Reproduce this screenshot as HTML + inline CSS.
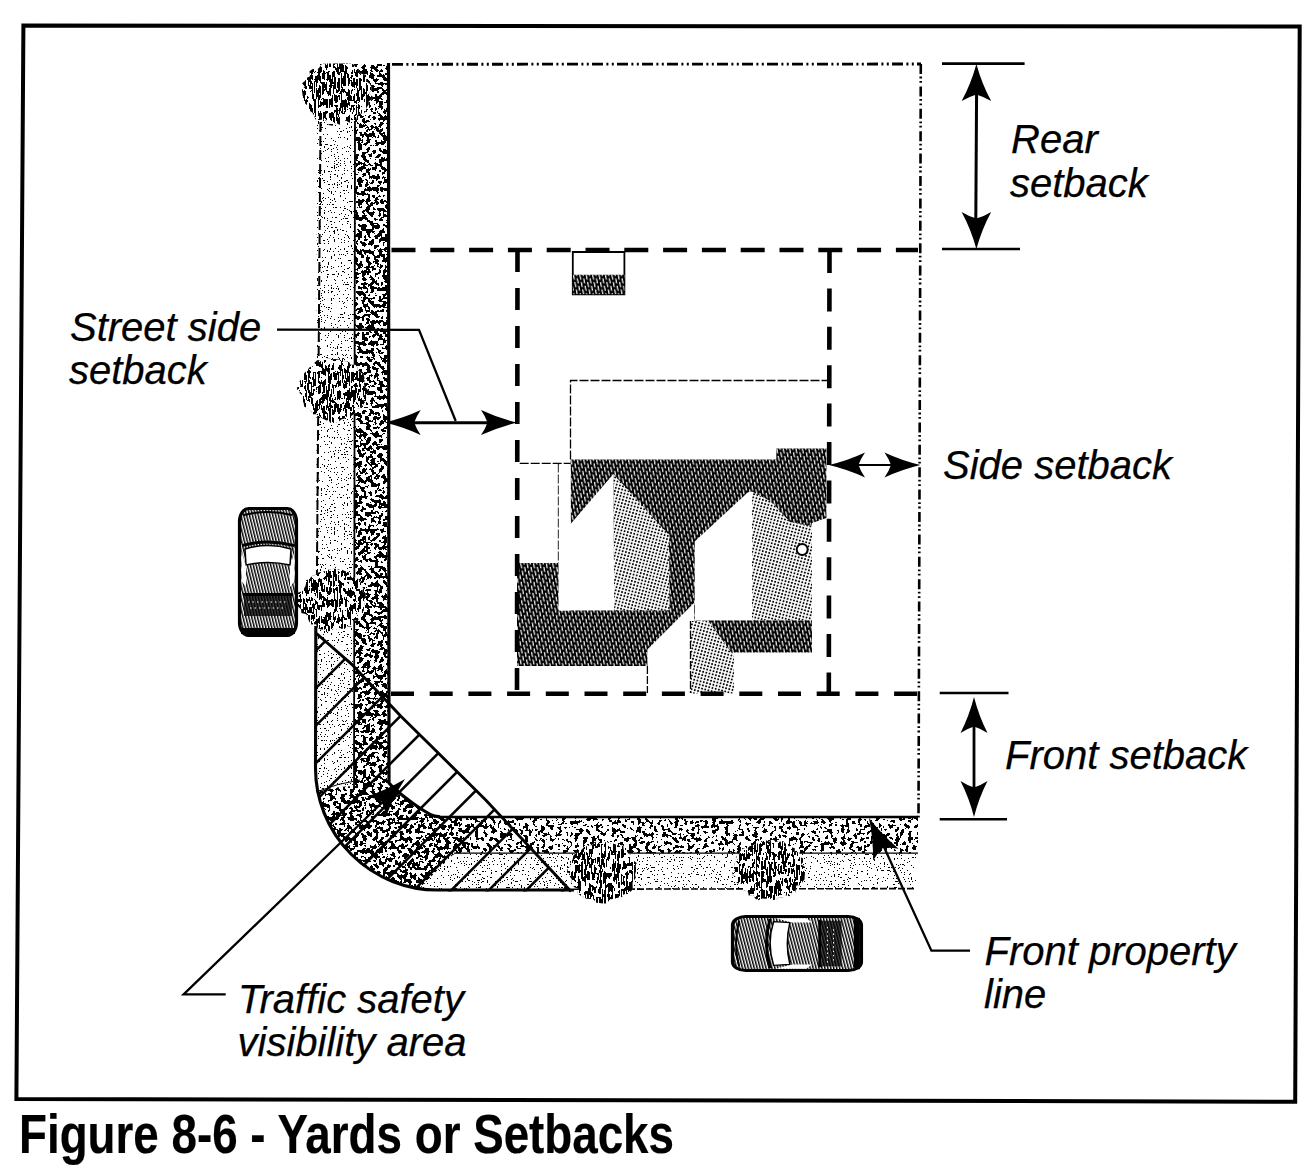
<!DOCTYPE html>
<html><head><meta charset="utf-8"><title>Figure 8-6 - Yards or Setbacks</title>
<style>
html,body{margin:0;padding:0;background:#fff;}
body{width:1307px;height:1176px;overflow:hidden;}
svg{display:block;}
text{font-family:"Liberation Sans",sans-serif;}
.lbl{font-style:italic;font-size:40px;fill:#000;stroke:#000;stroke-width:0.25px;}
</style></head>
<body>
<svg width="1307" height="1176" viewBox="0 0 1307 1176">

<defs>
<path id="ah" d="M0,0 Q19,-4.5 36,-12.5 Q31.5,-6 29.5,0 Q31.5,6 36,12.5 Q19,4.5 0,0 Z" fill="#000"/>
<filter id="fSpeck" x="0" y="0" width="1" height="1" color-interpolation-filters="sRGB">
  <feTurbulence type="fractalNoise" baseFrequency="0.24" numOctaves="2" seed="7" result="n"/>
  <feColorMatrix in="n" type="matrix" values="0 0 0 0 0  0 0 0 0 0  0 0 0 0 0  1 0 0 0 0" result="a"/>
  <feComponentTransfer in="a" result="t"><feFuncA type="discrete" tableValues="1 1 1 1 1 1 1 1 1 1 1 1 1 1 1 1 1 1 1 1 1 1 1 1 1 1 1 1 1 1 1 1 1 1 1 1 1 1 1 1 1 1 1 1 1 1 1 1 1 0 0 0 0 0 0 0 0 0 0 0 0 0 0 0 0 0 0 0 0 0 0 0 0 0 0 0 0 0 0 0 0 0 0 0 0 0 0 0 0 0 0 0 0 0 0 0 0 0 0 0"/></feComponentTransfer>
  <feComposite in="t" in2="SourceAlpha" operator="in"/>
</filter>
<filter id="fSpeck2" x="0" y="0" width="1" height="1" color-interpolation-filters="sRGB">
  <feTurbulence type="fractalNoise" baseFrequency="0.24" numOctaves="2" seed="19" result="n"/>
  <feColorMatrix in="n" type="matrix" values="0 0 0 0 0  0 0 0 0 0  0 0 0 0 0  1 0 0 0 0" result="a"/>
  <feComponentTransfer in="a" result="t"><feFuncA type="discrete" tableValues="1 1 1 1 1 1 1 1 1 1 1 0 0 0 0 0 0 0 0 0 0 0 0 0 0"/></feComponentTransfer>
  <feComposite in="t" in2="SourceAlpha" operator="in"/>
</filter>
<filter id="fTree" x="0" y="0" width="1" height="1" color-interpolation-filters="sRGB">
  <feTurbulence type="fractalNoise" baseFrequency="0.6 0.11" numOctaves="2" seed="4" result="n"/>
  <feColorMatrix in="n" type="matrix" values="0 0 0 0 0  0 0 0 0 0  0 0 0 0 0  1 0 0 0 0" result="a"/>
  <feComponentTransfer in="a" result="t"><feFuncA type="discrete" tableValues="1 1 1 1 1 1 1 1 1 1 1 1 1 1 1 1 1 1 1 1 1 1 1 1 1 1 1 1 1 1 1 1 1 1 1 1 1 1 1 1 1 1 1 1 1 1 1 1 1 1 1 1 1 1 0 0 0 0 0 0 0 0 0 0 0 0 0 0 0 0 0 0 0 0 0 0 0 0 0 0 0 0 0 0 0 0 0 0 0 0 0 0 0 0 0 0 0 0 0 0"/></feComponentTransfer>
  <feComposite in="t" in2="SourceAlpha" operator="in"/>
</filter>
<filter id="fLight" x="0" y="0" width="1" height="1" color-interpolation-filters="sRGB">
  <feTurbulence type="fractalNoise" baseFrequency="0.7" numOctaves="1" seed="3" result="n"/>
  <feColorMatrix in="n" type="matrix" values="0 0 0 0 0  0 0 0 0 0  0 0 0 0 0  1 0 0 0 0" result="a"/>
  <feComponentTransfer in="a" result="t"><feFuncA type="discrete" tableValues="0 0 0 0 0 0 0 0 0 0 0 0 0 0 0 0 0 0 0 0 0 0 0 0 0 0 0 0 0 0 0 0 0 0 0 0 0 0 0 0 0 0 0 0 0 0 0 0 0 0 0 0 0 0 0 0 0 0 0 0 0 0 0 0 0 0 0 0 0 0 0 0 0 0 0 0 0 0 0 0 0 0 0 0 0 0 0 0 0 0 0 0 0 0 0 0 0 0 0 0 0 0 0 0 0 0 0 0 0 0 0 0 0 0 0 0 0 0 0 0 0 0 0 0 0 0 0 0 0 0 0 1 1 1 1 1 1 1 1 1 1 1 1 1 1 1 1 1 1 1 1 1 1 1 1 1 1 1 1 1 1 1 1 1 1 1 1 1 1 1 1 1 1 1 1 1 1 1 1 1 1 1 1 1 1 1 1 1 1 1 1 1 1 1 1 1 1 1 1 1"/></feComponentTransfer>
  <feComposite in="t" in2="SourceAlpha" operator="in"/>
</filter>
<filter id="fLight2" x="0" y="0" width="1" height="1" color-interpolation-filters="sRGB">
  <feTurbulence type="fractalNoise" baseFrequency="0.7" numOctaves="1" seed="5" result="n"/>
  <feColorMatrix in="n" type="matrix" values="0 0 0 0 0  0 0 0 0 0  0 0 0 0 0  1 0 0 0 0" result="a"/>
  <feComponentTransfer in="a" result="t"><feFuncA type="discrete" tableValues="0 0 0 0 0 0 0 0 0 0 0 0 0 0 0 0 0 0 0 0 0 0 0 0 0 0 0 0 0 0 0 0 0 1 1 1 1 1 1 1 1 1 1 1 1 1 1 1 1 1"/></feComponentTransfer>
  <feComposite in="t" in2="SourceAlpha" operator="in"/>
</filter>
<filter id="fBlot" x="0" y="0" width="1" height="1" color-interpolation-filters="sRGB">
  <feTurbulence type="fractalNoise" baseFrequency="0.15" numOctaves="2" seed="11" result="n"/>
  <feColorMatrix in="n" type="matrix" values="0 0 0 0 1  0 0 0 0 1  0 0 0 0 1  1 0 0 0 0" result="a"/>
  <feComponentTransfer in="a" result="t"><feFuncA type="discrete" tableValues="0 0 0 0 0 0 0 0 0 0 0 0 1 1 1 1 1 1 1 1"/></feComponentTransfer>
  <feComposite in="t" in2="SourceAlpha" operator="in"/>
</filter>
<pattern id="pRoof" width="6.4" height="7.4" patternUnits="userSpaceOnUse" patternTransform="skewX(11)">
  <rect width="6.4" height="7.4" fill="#000"/>
  <rect x="1" y="0.8" width="1.2" height="5.1" fill="#fff"/>
  <rect x="4.2" y="4.5" width="1.2" height="5.1" fill="#fff"/>
  <rect x="4.2" y="-2.9" width="1.2" height="5.1" fill="#fff"/>
</pattern>
<pattern id="pTree" width="6.6" height="6" patternUnits="userSpaceOnUse" patternTransform="skewX(10)">
  <rect width="6.6" height="6" fill="#000"/>
  <rect x="1.0" y="0.4" width="1.3" height="4.2" fill="#fff"/>
  <rect x="4.3" y="3.2" width="1.3" height="4.2" fill="#fff"/>
  <rect x="4.3" y="-2.8" width="1.3" height="4.2" fill="#fff"/>
</pattern>
<pattern id="pCar" width="2.9" height="10" patternUnits="userSpaceOnUse" patternTransform="skewX(14)">
  <rect width="2.9" height="10" fill="#fff"/>
  <rect x="0" y="0" width="1.5" height="10" fill="#000"/>
</pattern>
<pattern id="pCar2" width="2.9" height="10" patternUnits="userSpaceOnUse" patternTransform="rotate(90) skewX(14)">
  <rect width="2.9" height="10" fill="#fff"/>
  <rect x="0" y="0" width="1.5" height="10" fill="#000"/>
</pattern>
<pattern id="pGable" width="3.3" height="3.3" patternUnits="userSpaceOnUse" patternTransform="rotate(15)">
  <rect width="3.3" height="3.3" fill="#fff"/>
  <circle cx="1.65" cy="1.65" r="0.98" fill="#000"/>
</pattern>
</defs>
<rect x="0" y="0" width="1307" height="1176" fill="#fff"/>

<polygon points="23.4,25.5 1299.7,26.6 1295.2,1101.7 16.4,1099" fill="none" stroke="#000" stroke-width="4"/>
<path d="M317,64 L354,64 L354,786 Q338,786 316,792 Z" fill="#fff"/>
<path d="M317,64 L354,64 L354,786 Q338,786 316,792 Z" fill="#000" filter="url(#fLight)"/>
<path d="M454.5,853 L916,853 L916,889 L418.5,889 Z" fill="#fff"/>
<path d="M454.5,853 L916,853 L916,889 L418.5,889 Z" fill="#000" filter="url(#fLight2)"/>
<path d="M354,64 L389,64 L389,782 C395,790 410,802 422,809.5 S432,815.5 440,816.5 L470,816.5 L470,853.3 L454.5,853.3 L419,888.5 A122,122 0 0 1 315.5,768 L316,792 Q338,786 354,786 Z" fill="#fff"/>
<path d="M354,64 L389,64 L389,782 C395,790 410,802 422,809.5 S432,815.5 440,816.5 L470,816.5 L470,853.3 L454.5,853.3 L419,888.5 A122,122 0 0 1 315.5,768 L316,792 Q338,786 354,786 Z" fill="#000" filter="url(#fSpeck)"/>
<path d="M470,816.5 L918,816.5 L918,853.3 L470,853.3 Z" fill="#fff"/>
<path d="M470,816.5 L918,816.5 L918,853.3 L470,853.3 Z" fill="#000" filter="url(#fSpeck2)"/>
<g fill="none" stroke="#000">
<path d="M320.5,122 L316.5,628" stroke-width="2" stroke-dasharray="10,4"/>
<path d="M315.8,626 L315.5,768 A122,122 0 0 0 437.5,890 L574,890" stroke-width="3.1"/>
<path d="M574,889.2 L916,888.6" stroke-width="1.6" stroke-dasharray="7,2"/>
<path d="M355,122 L354,788" stroke-width="1.8"/>
<path d="M388.5,63 L389,783 C395,790 410,802 422,809.5 S432,815.5 440,816.8" stroke-width="3.2"/>
<path d="M438,817 L918,817" stroke-width="2.6"/>
<path d="M454,853.2 L918,853.2" stroke-width="1.2"/>
<path d="M316,792 Q338,783 360,780" stroke-width="1"/>
<path d="M392,64.3 L921,64" stroke-width="2.8" stroke-dasharray="11,3.4,2,3.4,2,3.2"/>
<path d="M920.8,64 L918.5,818" stroke-width="2.6" stroke-dasharray="10,2.6,1.8,2.6,1.8,3.6"/>
</g>
<polygon points="572.8,252 624.4,252 624.4,294.3 572.8,294.3" fill="#fff" stroke="#000" stroke-width="1.8"/>
<polygon points="572.8,274.8 624.4,274.8 624.4,294.3 572.8,294.3" fill="url(#pRoof)" />
<path d="M570.5,459.5 L570.5,380.5 L829,380.5" fill="none" stroke="#000" stroke-width="1.3" stroke-dasharray="9,2"/>
<path d="M519.7,463.4 L570.6,463.4 M558.5,463.4 L558.5,563" fill="none" stroke="#000" stroke-width="1.3" stroke-dasharray="9,2"/>
<polygon points="570.6,459.4 776.3,459.4 776.3,448.6 826.4,448.6 826.4,518 812,523 812,620.5 694,620.5 694,603 647.4,649.4 647.4,666 517,666 517,563 558.7,563 558.7,610.4 570.6,610.4" fill="url(#pRoof)" />
<polygon points="708,620.5 812,620.5 812,652.5 731,652.5" fill="url(#pRoof)" />
<polygon points="613.4,474 669,535 669.5,610.4 614.2,610.4" fill="url(#pGable)" />
<polygon points="558.7,464.5 570.6,464.5 570.6,524 613.4,474 614.2,610.4 558.7,610.4" fill="#fff" />
<polygon points="694.7,541.5 748,492.2 752,491.4 752,620.3 694.7,620.3" fill="#fff" />
<polygon points="752,491.4 812,523 812,620.3 752,620.3" fill="url(#pGable)" />
<polygon points="770,500 812,520 812,526 790,522" fill="url(#pRoof)" />
<polygon points="690.5,621 708,621 731,652.5 734,652.5 734,693.5 690.5,693.5" fill="url(#pGable)" />
<path d="M647.4,666 L647.4,693 M690.5,621 L690.5,693" fill="none" stroke="#000" stroke-width="1.3" stroke-dasharray="8,2"/>
<circle cx="802.2" cy="549.5" r="5.5" fill="#fff" stroke="#000" stroke-width="2"/>
<g fill="none" stroke="#000" stroke-width="4.6">
<path d="M391.5,250 L918,250" stroke-dasharray="24,14.8"/>
<path d="M391,693.8 L918,693.8" stroke-dasharray="23,15.7"/>
<path d="M517.5,250 L517,693.8" stroke-dasharray="22,16"/>
<path d="M829.5,250 L828.8,693.8" stroke-dasharray="23,15.4"/>
</g>
<clipPath id="cTri"><path d="M316.5,633.5 L352.4,664.9 L401.4,716.8 L435.2,750 L485.7,800 L530,847.4 L571,891.5 L437.5,891.5 A122,122 0 0 1 315.5,768 Z"/></clipPath>
<g clip-path="url(#cTri)" stroke="#000" stroke-width="2.6" fill="none">
<path d="M-21.0,950 L329.0,600"/>
<path d="M16.5,950 L366.5,600"/>
<path d="M54.0,950 L404.0,600"/>
<path d="M91.5,950 L441.5,600"/>
<path d="M129.0,950 L479.0,600"/>
<path d="M166.5,950 L516.5,600"/>
<path d="M204.0,950 L554.0,600"/>
<path d="M241.5,950 L591.5,600"/>
<path d="M279.0,950 L629.0,600"/>
<path d="M316.5,950 L666.5,600"/>
<path d="M354.0,950 L704.0,600"/>
<path d="M391.5,950 L741.5,600"/>
<path d="M429.0,950 L779.0,600"/>
<path d="M466.5,950 L816.5,600"/>
<path d="M504.0,950 L854.0,600"/>
<path d="M541.5,950 L891.5,600"/>
</g>
<path d="M316.5,633.5 L352.4,664.9 L401.4,716.8 L435.2,750 L485.7,800 L530,847.4 L571,891.5" stroke="#000" stroke-width="2.9" fill="none" stroke-linejoin="round"/>
<path d="M369.2,93.0 L372.5,96.2 L371.6,99.3 L368.3,101.7 L368.3,104.9 L366.6,107.5 L365.7,110.6 L364.1,113.5 L359.3,113.7 L356.7,115.4 L356.4,120.0 L352.3,120.1 L349.9,122.7 L345.5,120.6 L342.8,123.2 L339.5,124.8 L336.0,122.8 L332.4,125.8 L328.8,125.1 L326.5,120.7 L323.5,119.6 L319.4,120.1 L315.4,119.6 L314.2,115.4 L312.2,112.5 L309.2,110.4 L308.8,106.8 L306.3,104.5 L303.9,102.2 L302.5,99.7 L303.0,97.2 L302.5,95.1 L302.4,93.0 L301.4,90.9 L302.7,88.8 L304.8,86.7 L302.1,83.3 L304.9,80.9 L306.3,78.0 L310.1,76.2 L309.5,71.3 L312.7,69.1 L317.6,69.3 L319.9,66.7 L322.2,63.7 L325.5,63.5 L328.8,63.5 L332.6,63.5 L336.0,63.5 L339.5,63.5 L342.6,63.5 L346.3,63.5 L350.1,63.5 L353.3,64.3 L355.5,67.2 L358.5,68.7 L359.1,72.5 L362.1,74.0 L366.3,75.1 L366.5,78.6 L366.9,81.7 L369.7,83.9 L371.3,86.8 L371.7,89.9 Z" fill="#fff"/>
<path d="M369.2,93.0 L372.5,96.2 L371.6,99.3 L368.3,101.7 L368.3,104.9 L366.6,107.5 L365.7,110.6 L364.1,113.5 L359.3,113.7 L356.7,115.4 L356.4,120.0 L352.3,120.1 L349.9,122.7 L345.5,120.6 L342.8,123.2 L339.5,124.8 L336.0,122.8 L332.4,125.8 L328.8,125.1 L326.5,120.7 L323.5,119.6 L319.4,120.1 L315.4,119.6 L314.2,115.4 L312.2,112.5 L309.2,110.4 L308.8,106.8 L306.3,104.5 L303.9,102.2 L302.5,99.7 L303.0,97.2 L302.5,95.1 L302.4,93.0 L301.4,90.9 L302.7,88.8 L304.8,86.7 L302.1,83.3 L304.9,80.9 L306.3,78.0 L310.1,76.2 L309.5,71.3 L312.7,69.1 L317.6,69.3 L319.9,66.7 L322.2,63.7 L325.5,63.5 L328.8,63.5 L332.6,63.5 L336.0,63.5 L339.5,63.5 L342.6,63.5 L346.3,63.5 L350.1,63.5 L353.3,64.3 L355.5,67.2 L358.5,68.7 L359.1,72.5 L362.1,74.0 L366.3,75.1 L366.5,78.6 L366.9,81.7 L369.7,83.9 L371.3,86.8 L371.7,89.9 Z" fill="#000" filter="url(#fTree)"/>
<path d="M369.2,93.0 L372.5,96.2 L371.6,99.3 L368.3,101.7 L368.3,104.9 L366.6,107.5 L365.7,110.6 L364.1,113.5 L359.3,113.7 L356.7,115.4 L356.4,120.0 L352.3,120.1 L349.9,122.7 L345.5,120.6 L342.8,123.2 L339.5,124.8 L336.0,122.8 L332.4,125.8 L328.8,125.1 L326.5,120.7 L323.5,119.6 L319.4,120.1 L315.4,119.6 L314.2,115.4 L312.2,112.5 L309.2,110.4 L308.8,106.8 L306.3,104.5 L303.9,102.2 L302.5,99.7 L303.0,97.2 L302.5,95.1 L302.4,93.0 L301.4,90.9 L302.7,88.8 L304.8,86.7 L302.1,83.3 L304.9,80.9 L306.3,78.0 L310.1,76.2 L309.5,71.3 L312.7,69.1 L317.6,69.3 L319.9,66.7 L322.2,63.7 L325.5,63.5 L328.8,63.5 L332.6,63.5 L336.0,63.5 L339.5,63.5 L342.6,63.5 L346.3,63.5 L350.1,63.5 L353.3,64.3 L355.5,67.2 L358.5,68.7 L359.1,72.5 L362.1,74.0 L366.3,75.1 L366.5,78.6 L366.9,81.7 L369.7,83.9 L371.3,86.8 L371.7,89.9 Z" fill="#fff" filter="url(#fBlot)"/>
<path d="M368.2,390.0 L368.0,393.2 L363.3,395.7 L362.6,398.5 L364.9,402.4 L363.0,405.1 L360.9,407.6 L357.6,409.1 L356.4,412.2 L353.9,414.3 L351.1,416.1 L347.3,416.0 L344.9,418.4 L341.7,419.2 L338.8,421.4 L335.6,423.0 L332.0,423.0 L328.6,421.0 L325.4,420.1 L322.5,418.6 L319.8,416.5 L317.0,414.8 L313.2,414.3 L311.0,411.3 L308.4,408.6 L304.3,406.7 L303.6,402.7 L301.8,399.8 L301.7,396.8 L301.6,394.5 L299.5,392.9 L299.9,391.3 L298.0,390.0 L295.8,388.5 L297.8,387.0 L300.9,385.4 L298.9,382.5 L300.8,379.8 L302.8,376.9 L304.2,373.3 L307.1,370.4 L309.6,367.3 L313.5,366.1 L314.9,361.6 L318.1,359.9 L322.6,361.9 L325.1,358.5 L328.6,358.2 L332.0,359.2 L335.3,359.0 L338.6,359.6 L342.5,358.6 L345.0,361.4 L348.8,361.4 L350.5,364.8 L354.7,364.8 L357.4,366.9 L358.1,370.4 L360.5,372.6 L363.7,374.5 L364.4,377.8 L364.5,381.0 L364.0,384.2 L365.0,387.0 Z" fill="#fff"/>
<path d="M368.2,390.0 L368.0,393.2 L363.3,395.7 L362.6,398.5 L364.9,402.4 L363.0,405.1 L360.9,407.6 L357.6,409.1 L356.4,412.2 L353.9,414.3 L351.1,416.1 L347.3,416.0 L344.9,418.4 L341.7,419.2 L338.8,421.4 L335.6,423.0 L332.0,423.0 L328.6,421.0 L325.4,420.1 L322.5,418.6 L319.8,416.5 L317.0,414.8 L313.2,414.3 L311.0,411.3 L308.4,408.6 L304.3,406.7 L303.6,402.7 L301.8,399.8 L301.7,396.8 L301.6,394.5 L299.5,392.9 L299.9,391.3 L298.0,390.0 L295.8,388.5 L297.8,387.0 L300.9,385.4 L298.9,382.5 L300.8,379.8 L302.8,376.9 L304.2,373.3 L307.1,370.4 L309.6,367.3 L313.5,366.1 L314.9,361.6 L318.1,359.9 L322.6,361.9 L325.1,358.5 L328.6,358.2 L332.0,359.2 L335.3,359.0 L338.6,359.6 L342.5,358.6 L345.0,361.4 L348.8,361.4 L350.5,364.8 L354.7,364.8 L357.4,366.9 L358.1,370.4 L360.5,372.6 L363.7,374.5 L364.4,377.8 L364.5,381.0 L364.0,384.2 L365.0,387.0 Z" fill="#000" filter="url(#fTree)"/>
<path d="M368.2,390.0 L368.0,393.2 L363.3,395.7 L362.6,398.5 L364.9,402.4 L363.0,405.1 L360.9,407.6 L357.6,409.1 L356.4,412.2 L353.9,414.3 L351.1,416.1 L347.3,416.0 L344.9,418.4 L341.7,419.2 L338.8,421.4 L335.6,423.0 L332.0,423.0 L328.6,421.0 L325.4,420.1 L322.5,418.6 L319.8,416.5 L317.0,414.8 L313.2,414.3 L311.0,411.3 L308.4,408.6 L304.3,406.7 L303.6,402.7 L301.8,399.8 L301.7,396.8 L301.6,394.5 L299.5,392.9 L299.9,391.3 L298.0,390.0 L295.8,388.5 L297.8,387.0 L300.9,385.4 L298.9,382.5 L300.8,379.8 L302.8,376.9 L304.2,373.3 L307.1,370.4 L309.6,367.3 L313.5,366.1 L314.9,361.6 L318.1,359.9 L322.6,361.9 L325.1,358.5 L328.6,358.2 L332.0,359.2 L335.3,359.0 L338.6,359.6 L342.5,358.6 L345.0,361.4 L348.8,361.4 L350.5,364.8 L354.7,364.8 L357.4,366.9 L358.1,370.4 L360.5,372.6 L363.7,374.5 L364.4,377.8 L364.5,381.0 L364.0,384.2 L365.0,387.0 Z" fill="#fff" filter="url(#fBlot)"/>
<path d="M363.8,600.0 L365.0,603.0 L363.7,605.7 L364.0,608.8 L363.0,611.7 L359.2,613.3 L357.3,615.5 L358.5,619.9 L354.2,620.5 L351.8,622.3 L351.2,626.7 L347.0,626.3 L344.6,629.0 L340.8,628.6 L337.8,630.0 L334.2,628.4 L331.0,630.6 L327.5,631.4 L324.3,629.5 L320.8,629.6 L317.7,628.0 L316.0,624.2 L311.4,624.5 L309.2,621.4 L307.6,617.8 L306.4,614.3 L301.3,612.9 L301.1,609.4 L298.6,607.1 L296.7,604.9 L296.7,603.0 L295.2,601.4 L297.5,600.0 L295.7,598.6 L297.9,597.1 L296.5,595.0 L297.9,592.8 L302.7,591.1 L304.2,588.3 L305.8,585.3 L305.4,580.5 L309.6,579.1 L311.8,575.9 L315.4,575.0 L318.0,572.6 L321.3,571.9 L324.5,571.2 L327.6,569.8 L331.0,569.6 L334.5,568.5 L337.8,569.8 L341.5,569.6 L344.7,570.9 L348.1,571.7 L350.3,574.5 L351.6,577.9 L356.3,577.7 L359.0,579.7 L360.9,582.4 L361.3,585.7 L363.4,588.2 L362.2,591.6 L365.9,593.9 L365.2,597.0 Z" fill="#fff"/>
<path d="M363.8,600.0 L365.0,603.0 L363.7,605.7 L364.0,608.8 L363.0,611.7 L359.2,613.3 L357.3,615.5 L358.5,619.9 L354.2,620.5 L351.8,622.3 L351.2,626.7 L347.0,626.3 L344.6,629.0 L340.8,628.6 L337.8,630.0 L334.2,628.4 L331.0,630.6 L327.5,631.4 L324.3,629.5 L320.8,629.6 L317.7,628.0 L316.0,624.2 L311.4,624.5 L309.2,621.4 L307.6,617.8 L306.4,614.3 L301.3,612.9 L301.1,609.4 L298.6,607.1 L296.7,604.9 L296.7,603.0 L295.2,601.4 L297.5,600.0 L295.7,598.6 L297.9,597.1 L296.5,595.0 L297.9,592.8 L302.7,591.1 L304.2,588.3 L305.8,585.3 L305.4,580.5 L309.6,579.1 L311.8,575.9 L315.4,575.0 L318.0,572.6 L321.3,571.9 L324.5,571.2 L327.6,569.8 L331.0,569.6 L334.5,568.5 L337.8,569.8 L341.5,569.6 L344.7,570.9 L348.1,571.7 L350.3,574.5 L351.6,577.9 L356.3,577.7 L359.0,579.7 L360.9,582.4 L361.3,585.7 L363.4,588.2 L362.2,591.6 L365.9,593.9 L365.2,597.0 Z" fill="#000" filter="url(#fTree)"/>
<path d="M363.8,600.0 L365.0,603.0 L363.7,605.7 L364.0,608.8 L363.0,611.7 L359.2,613.3 L357.3,615.5 L358.5,619.9 L354.2,620.5 L351.8,622.3 L351.2,626.7 L347.0,626.3 L344.6,629.0 L340.8,628.6 L337.8,630.0 L334.2,628.4 L331.0,630.6 L327.5,631.4 L324.3,629.5 L320.8,629.6 L317.7,628.0 L316.0,624.2 L311.4,624.5 L309.2,621.4 L307.6,617.8 L306.4,614.3 L301.3,612.9 L301.1,609.4 L298.6,607.1 L296.7,604.9 L296.7,603.0 L295.2,601.4 L297.5,600.0 L295.7,598.6 L297.9,597.1 L296.5,595.0 L297.9,592.8 L302.7,591.1 L304.2,588.3 L305.8,585.3 L305.4,580.5 L309.6,579.1 L311.8,575.9 L315.4,575.0 L318.0,572.6 L321.3,571.9 L324.5,571.2 L327.6,569.8 L331.0,569.6 L334.5,568.5 L337.8,569.8 L341.5,569.6 L344.7,570.9 L348.1,571.7 L350.3,574.5 L351.6,577.9 L356.3,577.7 L359.0,579.7 L360.9,582.4 L361.3,585.7 L363.4,588.2 L362.2,591.6 L365.9,593.9 L365.2,597.0 Z" fill="#fff" filter="url(#fBlot)"/>
<path d="M635.7,872.0 L635.0,874.8 L635.9,877.8 L634.0,880.3 L632.5,882.8 L632.6,885.9 L632.9,889.6 L630.4,891.8 L627.9,894.0 L623.7,894.3 L622.0,897.1 L618.5,897.6 L615.4,898.4 L612.3,899.1 L609.4,900.2 L606.5,903.6 L603.0,903.4 L599.5,903.1 L596.1,902.7 L593.6,899.4 L590.3,898.9 L586.7,898.7 L583.5,897.3 L580.4,895.6 L577.7,893.2 L578.2,888.7 L574.3,887.3 L572.3,884.7 L571.6,881.8 L571.9,878.9 L569.8,876.8 L571.1,874.2 L566.9,872.0 L567.4,869.5 L569.4,867.2 L571.4,865.0 L569.8,861.6 L572.7,859.4 L573.2,856.1 L575.4,853.5 L578.9,851.8 L581.7,849.8 L583.8,847.2 L587.1,846.1 L590.6,845.7 L593.4,844.1 L596.1,841.3 L599.9,844.1 L603.0,843.9 L606.4,841.6 L609.4,843.5 L612.9,843.2 L616.0,844.4 L618.7,846.1 L623.2,845.3 L623.7,849.8 L626.7,851.0 L628.2,853.8 L631.8,855.0 L632.0,858.3 L633.8,860.8 L636.7,863.0 L635.5,866.3 L637.1,869.0 Z" fill="#fff"/>
<path d="M635.7,872.0 L635.0,874.8 L635.9,877.8 L634.0,880.3 L632.5,882.8 L632.6,885.9 L632.9,889.6 L630.4,891.8 L627.9,894.0 L623.7,894.3 L622.0,897.1 L618.5,897.6 L615.4,898.4 L612.3,899.1 L609.4,900.2 L606.5,903.6 L603.0,903.4 L599.5,903.1 L596.1,902.7 L593.6,899.4 L590.3,898.9 L586.7,898.7 L583.5,897.3 L580.4,895.6 L577.7,893.2 L578.2,888.7 L574.3,887.3 L572.3,884.7 L571.6,881.8 L571.9,878.9 L569.8,876.8 L571.1,874.2 L566.9,872.0 L567.4,869.5 L569.4,867.2 L571.4,865.0 L569.8,861.6 L572.7,859.4 L573.2,856.1 L575.4,853.5 L578.9,851.8 L581.7,849.8 L583.8,847.2 L587.1,846.1 L590.6,845.7 L593.4,844.1 L596.1,841.3 L599.9,844.1 L603.0,843.9 L606.4,841.6 L609.4,843.5 L612.9,843.2 L616.0,844.4 L618.7,846.1 L623.2,845.3 L623.7,849.8 L626.7,851.0 L628.2,853.8 L631.8,855.0 L632.0,858.3 L633.8,860.8 L636.7,863.0 L635.5,866.3 L637.1,869.0 Z" fill="#000" filter="url(#fTree)"/>
<path d="M635.7,872.0 L635.0,874.8 L635.9,877.8 L634.0,880.3 L632.5,882.8 L632.6,885.9 L632.9,889.6 L630.4,891.8 L627.9,894.0 L623.7,894.3 L622.0,897.1 L618.5,897.6 L615.4,898.4 L612.3,899.1 L609.4,900.2 L606.5,903.6 L603.0,903.4 L599.5,903.1 L596.1,902.7 L593.6,899.4 L590.3,898.9 L586.7,898.7 L583.5,897.3 L580.4,895.6 L577.7,893.2 L578.2,888.7 L574.3,887.3 L572.3,884.7 L571.6,881.8 L571.9,878.9 L569.8,876.8 L571.1,874.2 L566.9,872.0 L567.4,869.5 L569.4,867.2 L571.4,865.0 L569.8,861.6 L572.7,859.4 L573.2,856.1 L575.4,853.5 L578.9,851.8 L581.7,849.8 L583.8,847.2 L587.1,846.1 L590.6,845.7 L593.4,844.1 L596.1,841.3 L599.9,844.1 L603.0,843.9 L606.4,841.6 L609.4,843.5 L612.9,843.2 L616.0,844.4 L618.7,846.1 L623.2,845.3 L623.7,849.8 L626.7,851.0 L628.2,853.8 L631.8,855.0 L632.0,858.3 L633.8,860.8 L636.7,863.0 L635.5,866.3 L637.1,869.0 Z" fill="#fff" filter="url(#fBlot)"/>
<path d="M804.6,870.0 L805.0,873.0 L804.7,876.1 L804.6,879.2 L802.4,881.9 L801.7,885.0 L796.2,885.6 L795.9,888.9 L795.3,892.5 L791.7,893.7 L789.5,896.3 L784.6,895.0 L782.3,897.6 L778.8,897.7 L775.9,899.6 L772.5,900.2 L769.0,898.0 L765.7,898.7 L762.4,898.5 L758.2,900.3 L755.1,898.6 L753.3,894.9 L748.7,895.5 L747.9,891.3 L743.8,890.5 L743.4,886.7 L741.9,884.0 L736.5,883.1 L738.0,879.4 L736.8,877.0 L732.4,875.1 L732.4,872.5 L735.0,870.0 L731.9,867.5 L734.5,865.2 L734.7,862.6 L738.0,860.6 L736.2,856.8 L739.1,854.5 L740.2,851.2 L742.9,848.7 L747.4,848.2 L749.9,846.0 L753.3,845.0 L756.3,843.8 L759.5,843.1 L762.4,841.4 L765.5,839.7 L769.0,842.1 L772.5,839.4 L775.7,841.2 L778.9,842.1 L783.0,841.0 L785.5,843.6 L787.9,845.7 L791.1,846.9 L794.5,848.2 L794.4,852.1 L800.0,852.2 L797.8,856.8 L802.5,858.1 L804.1,860.9 L801.0,864.5 L805.2,866.9 Z" fill="#fff"/>
<path d="M804.6,870.0 L805.0,873.0 L804.7,876.1 L804.6,879.2 L802.4,881.9 L801.7,885.0 L796.2,885.6 L795.9,888.9 L795.3,892.5 L791.7,893.7 L789.5,896.3 L784.6,895.0 L782.3,897.6 L778.8,897.7 L775.9,899.6 L772.5,900.2 L769.0,898.0 L765.7,898.7 L762.4,898.5 L758.2,900.3 L755.1,898.6 L753.3,894.9 L748.7,895.5 L747.9,891.3 L743.8,890.5 L743.4,886.7 L741.9,884.0 L736.5,883.1 L738.0,879.4 L736.8,877.0 L732.4,875.1 L732.4,872.5 L735.0,870.0 L731.9,867.5 L734.5,865.2 L734.7,862.6 L738.0,860.6 L736.2,856.8 L739.1,854.5 L740.2,851.2 L742.9,848.7 L747.4,848.2 L749.9,846.0 L753.3,845.0 L756.3,843.8 L759.5,843.1 L762.4,841.4 L765.5,839.7 L769.0,842.1 L772.5,839.4 L775.7,841.2 L778.9,842.1 L783.0,841.0 L785.5,843.6 L787.9,845.7 L791.1,846.9 L794.5,848.2 L794.4,852.1 L800.0,852.2 L797.8,856.8 L802.5,858.1 L804.1,860.9 L801.0,864.5 L805.2,866.9 Z" fill="#000" filter="url(#fTree)"/>
<path d="M804.6,870.0 L805.0,873.0 L804.7,876.1 L804.6,879.2 L802.4,881.9 L801.7,885.0 L796.2,885.6 L795.9,888.9 L795.3,892.5 L791.7,893.7 L789.5,896.3 L784.6,895.0 L782.3,897.6 L778.8,897.7 L775.9,899.6 L772.5,900.2 L769.0,898.0 L765.7,898.7 L762.4,898.5 L758.2,900.3 L755.1,898.6 L753.3,894.9 L748.7,895.5 L747.9,891.3 L743.8,890.5 L743.4,886.7 L741.9,884.0 L736.5,883.1 L738.0,879.4 L736.8,877.0 L732.4,875.1 L732.4,872.5 L735.0,870.0 L731.9,867.5 L734.5,865.2 L734.7,862.6 L738.0,860.6 L736.2,856.8 L739.1,854.5 L740.2,851.2 L742.9,848.7 L747.4,848.2 L749.9,846.0 L753.3,845.0 L756.3,843.8 L759.5,843.1 L762.4,841.4 L765.5,839.7 L769.0,842.1 L772.5,839.4 L775.7,841.2 L778.9,842.1 L783.0,841.0 L785.5,843.6 L787.9,845.7 L791.1,846.9 L794.5,848.2 L794.4,852.1 L800.0,852.2 L797.8,856.8 L802.5,858.1 L804.1,860.9 L801.0,864.5 L805.2,866.9 Z" fill="#fff" filter="url(#fBlot)"/>
<g transform="translate(238,507)"><rect x="1.5" y="1.5" width="57" height="127" rx="9" ry="13" fill="url(#pCar)" stroke="#000" stroke-width="3.2"/>
<path d="M6,8 Q30,2 54,8" fill="none" stroke="#000" stroke-width="2"/>
<path d="M4,37 Q30,30 56,37 L56,40 Q30,33 4,40 Z" fill="#000"/>
<path d="M7,42 Q30,35 53,42 L52,58 Q30,53 8,58 Z" fill="#fff" stroke="#000" stroke-width="1.5"/>
<path d="M3.5,44 L8,60 L8,80 L3.5,74 Z" fill="#fff"/>
<path d="M56.5,44 L52,60 L52,80 L56.5,74 Z" fill="#fff"/>
<rect x="5" y="86" width="50" height="3" fill="#000"/>
<rect x="6" y="89" width="48" height="20" fill="#000" opacity="0.75"/>
<path d="M10,95 h40 M12,101 h36" stroke="#fff" stroke-width="1" stroke-dasharray="1.5,3" fill="none"/>
<rect x="3" y="121" width="54" height="6" fill="#000"/></g>
<g transform="translate(731,972) rotate(-90) scale(0.95,1.015)"><rect x="1.5" y="1.5" width="57" height="127" rx="9" ry="13" fill="url(#pCar2)" stroke="#000" stroke-width="3.2"/>
<path d="M6,8 Q30,2 54,8" fill="none" stroke="#000" stroke-width="2"/>
<path d="M4,37 Q30,30 56,37 L56,40 Q30,33 4,40 Z" fill="#000"/>
<path d="M7,42 Q30,35 53,42 L52,58 Q30,53 8,58 Z" fill="#fff" stroke="#000" stroke-width="1.5"/>
<path d="M3.5,44 L8,60 L8,80 L3.5,74 Z" fill="#fff"/>
<path d="M56.5,44 L52,60 L52,80 L56.5,74 Z" fill="#fff"/>
<rect x="5" y="86" width="50" height="3" fill="#000"/>
<rect x="6" y="89" width="48" height="20" fill="#000" opacity="0.75"/>
<path d="M10,95 h40 M12,101 h36" stroke="#fff" stroke-width="1" stroke-dasharray="1.5,3" fill="none"/>
<rect x="3" y="121" width="54" height="6" fill="#000"/></g>
<g stroke="#000" stroke-width="2.6" fill="none">
<path d="M942,63.6 L1024.6,63.6 M942,249 L1020,249"/>
<path d="M976.6,90 L975.8,222" stroke-width="3"/>
<path d="M939.7,693 L1008.5,693 M939.7,819.3 L1007,819.3"/>
<path d="M974,722 L974,792" stroke-width="2.8"/>
<path d="M855,465 L895,465" stroke-width="2"/>
<path d="M410,422.8 L492,422.8" stroke-width="3"/>
</g>
<use href="#ah" transform="translate(976.4,64) rotate(90) scale(1.03,1.18)"/>
<use href="#ah" transform="translate(976.4,249) rotate(-90) scale(1.03,1.18)"/>
<use href="#ah" transform="translate(974,697) rotate(90) scale(1.0,1.08)"/>
<use href="#ah" transform="translate(974,817) rotate(-90) scale(1.0,1.08)"/>
<use href="#ah" transform="translate(829,465) rotate(0) scale(1.0,1.0)"/>
<use href="#ah" transform="translate(920.5,465) rotate(180) scale(1.0,1.0)"/>
<use href="#ah" transform="translate(384.7,422.6) rotate(0) scale(1.0,1.0)"/>
<use href="#ah" transform="translate(517,422.6) rotate(180) scale(1.0,1.0)"/>
<g stroke="#000" stroke-width="2.3" fill="none">
<polyline points="277,329.6 419,329.8 455.7,421"/>
<polyline points="225.7,994.4 183.6,994.4 392,793"/>
<polyline points="970,950.7 931.4,950.7 878,834"/>
</g>
<use href="#ah" transform="translate(405,779) rotate(136) scale(1.1,1.1)"/>
<use href="#ah" transform="translate(869,818) rotate(65.3) scale(1.12,1.12)"/>
<text class="lbl" x="1011" y="153.0">Rear</text>
<text class="lbl" x="1010" y="196.9">setback</text>
<text class="lbl" x="70" y="340.9">Street side</text>
<text class="lbl" x="69" y="383.7">setback</text>
<text class="lbl" x="943" y="479.3">Side setback</text>
<text class="lbl" x="1005" y="769.3">Front setback</text>
<text class="lbl" x="984.5" y="965">Front property</text>
<text class="lbl" x="984" y="1008.3">line</text>
<text class="lbl" x="238" y="1012.6">Traffic safety</text>
<text class="lbl" x="237.5" y="1056">visibility area</text>
<text x="19" y="1153" font-weight="bold" font-size="55" textLength="655" lengthAdjust="spacingAndGlyphs" stroke="#000" stroke-width="0.2">Figure 8-6 - Yards or Setbacks</text>
</svg>
</body></html>
